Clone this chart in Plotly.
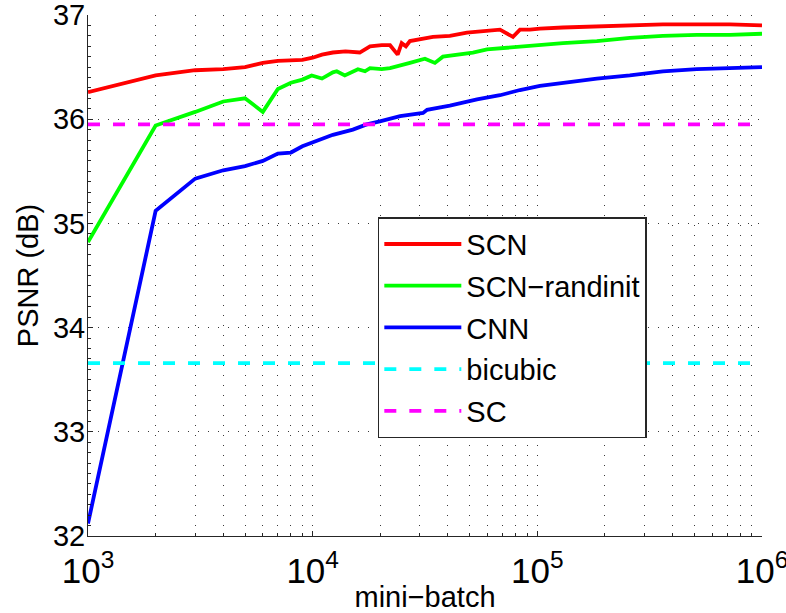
import plotly.graph_objects as go

# ---- data ----
scn_x = [1000, 2000, 3000, 4000, 5000, 6000, 7000, 8000, 9000, 10000, 11000, 12300,
         14000, 16200, 18000, 20300, 22100, 23900, 24900, 26000, 27100, 34300, 40800,
         48600, 59700, 68200, 77900, 83700, 92700, 102700, 130000, 184000, 258000,
         362000, 513000, 720000, 1000000]
scn_y = [36.26, 36.42, 36.47, 36.48, 36.50, 36.54, 36.56, 36.57, 36.57, 36.59, 36.62, 36.64,
         36.65, 36.64, 36.70, 36.71, 36.71, 36.62, 36.73, 36.70, 36.75, 36.79, 36.80,
         36.83, 36.85, 36.86, 36.79, 36.86, 36.86, 36.87, 36.88, 36.89, 36.90,
         36.91, 36.91, 36.91, 36.90]

rand_x = [1000, 2000, 3000, 4000, 5000, 6000, 7000, 8000, 9000, 9900, 11000, 12300,
          12800, 13900, 15900, 17100, 18000, 20300, 22100, 24500, 27100, 31600, 35000,
          38000, 45200, 51700, 59700, 68200, 81200, 92700, 102700, 130000, 184000,
          258000, 362000, 513000, 720000, 1000000]
rand_y = [34.82, 35.94, 36.07, 36.17, 36.20, 36.07, 36.29, 36.35, 36.38, 36.42, 36.39, 36.45,
          36.46, 36.42, 36.48, 36.46, 36.49, 36.48, 36.49, 36.52, 36.54, 36.58, 36.54,
          36.60, 36.62, 36.64, 36.67, 36.68, 36.70, 36.71, 36.72, 36.73, 36.75,
          36.78, 36.80, 36.81, 36.81, 36.82]

cnn_x = [1000, 2000, 3000, 4000, 5000, 6000, 7000, 8000, 9000, 10000, 12300, 15100,
         17400, 19900, 24500, 31000, 32300, 40800, 53900, 68200, 83700, 102700, 130000,
         184000, 258000, 362000, 513000, 720000, 1000000]
cnn_y = [32.12, 35.12, 35.43, 35.51, 35.55, 35.60, 35.67, 35.68, 35.74, 35.78, 35.85, 35.90,
         35.95, 35.98, 36.03, 36.06, 36.09, 36.13, 36.19, 36.23, 36.28, 36.32, 36.35,
         36.39, 36.42, 36.46, 36.48, 36.49, 36.50]

x_range = [1000, 1000000]
bicubic_psnr = 33.66
sc_psnr = 35.95

FONT = "Liberation Sans, Arial, Helvetica, sans-serif"
AX = "#262626"
GRID = "#3a3a3a"

fig = go.Figure()
fig.add_trace(go.Scatter(x=scn_x, y=scn_y, mode="lines", name="SCN", legendgroup="a",
                         line=dict(color="#ff0000", width=3.8)))
fig.add_trace(go.Scatter(x=rand_x, y=rand_y, mode="lines", name="SCN\u2212randinit", legendgroup="b",
                         line=dict(color="#00ff00", width=3.8)))
fig.add_trace(go.Scatter(x=cnn_x, y=cnn_y, mode="lines", name="CNN", legendgroup="c",
                         line=dict(color="#0000ff", width=3.8)))
fig.add_trace(go.Scatter(x=x_range, y=[bicubic_psnr] * 2, mode="lines", name="bicubic", legendgroup="d",
                         line=dict(color="#00ffff", width=3.8, dash="12px,13px")))
fig.add_trace(go.Scatter(x=x_range, y=[sc_psnr] * 2, mode="lines", name="SC", legendgroup="e",
                         line=dict(color="#ff00ff", width=3.8, dash="12px,13px")))

fig.update_layout(
    width=786, height=613,
    margin=dict(l=88, r=24, t=15, b=77),
    paper_bgcolor="white", plot_bgcolor="white",
    font=dict(family=FONT, size=29, color="black"),
    showlegend=True,
    legend=dict(x=0.43, y=0.612, xanchor="left", yanchor="top",
                bgcolor="white", bordercolor=AX, borderwidth=1.5,
                font=dict(size=29), tracegroupgap=1, traceorder="grouped",
                itemwidth=77),
    xaxis=dict(
        type="log", range=[3, 6], dtick=1, exponentformat="power", automargin=False,
        showline=True, linecolor=AX, linewidth=1,
        ticks="inside", ticklen=5, tickcolor=AX, ticklabelstandoff=5,
        ticklabeloverflow="allow",
        showgrid=True, gridcolor=GRID, griddash="1px,9px", gridwidth=1,
        minor=dict(ticks="inside", ticklen=3, tickcolor=AX, showgrid=True,
                   gridcolor=GRID, griddash="1px,9px", gridwidth=1),
        zeroline=False,
        title=dict(text="mini\u2212batch", font=dict(size=29), standoff=6),
        tickfont=dict(size=28),
    ),
    yaxis=dict(
        range=[32, 37], tick0=32, dtick=1, automargin=False,
        showline=True, linecolor=AX, linewidth=1,
        ticks="inside", ticklen=5, tickcolor=AX, ticklabelstandoff=-4,
        ticklabeloverflow="allow",
        showgrid=True, gridcolor=GRID, griddash="1px,9px", gridwidth=1,
        minor=dict(ticks="inside", ticklen=3, tickcolor=AX, dtick=0.1, showgrid=False),
        zeroline=False,
        title=dict(text="PSNR (dB)", font=dict(size=29), standoff=5),
        tickfont=dict(size=29),
    ),
)

fig.write_html("out.html", config={"displayModeBar": False},
               post_script="document.body.style.margin='0';document.body.style.overflow='hidden';")
